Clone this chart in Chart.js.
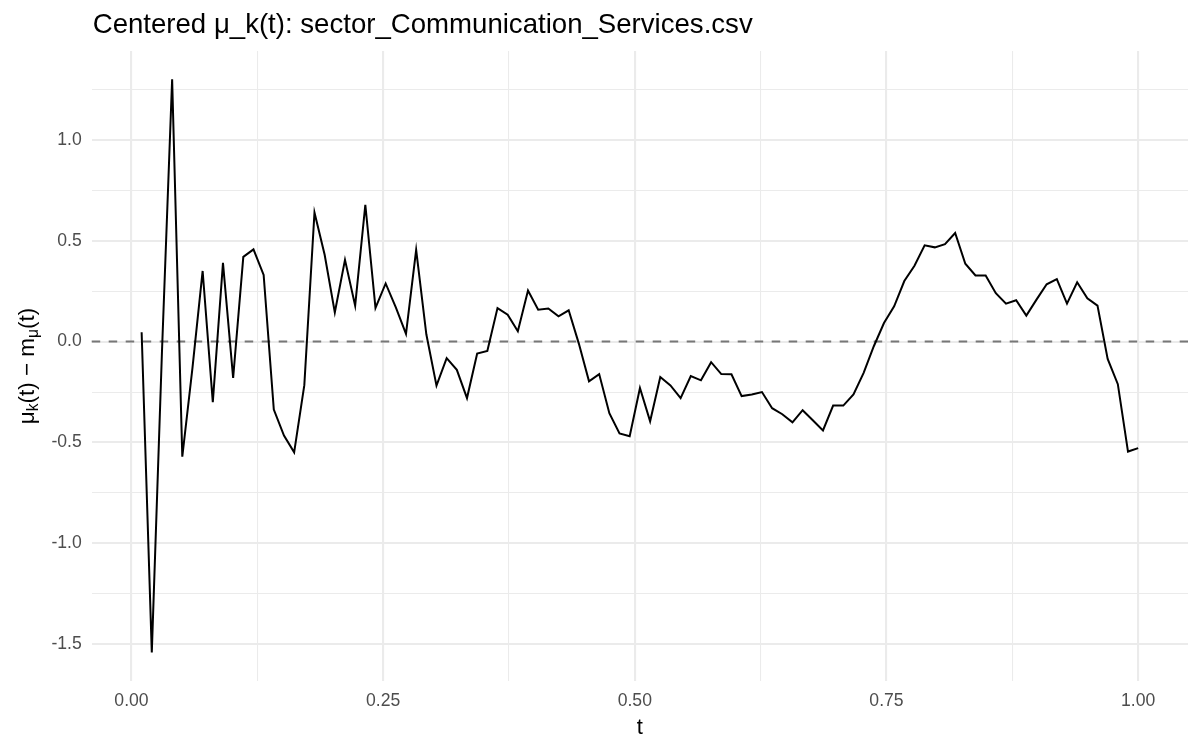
<!DOCTYPE html>
<html>
<head>
<meta charset="utf-8">
<script src="https://cdn.jsdelivr.net/npm/chart.js@4/dist/chart.umd.min.js"></script>
<style>
  html, body { margin: 0; padding: 0; background: #ffffff; }
  #wrap { width: 1200px; height: 750px; }
</style>
</head>
<body>
<div id="wrap"><canvas id="chart" width="1200" height="750"></canvas></div>
<script>
// t positions of the curve (99 evenly spaced points ending at 1)
const tValues = [
  0.0101, 0.0202, 0.0303, 0.0404, 0.0505, 0.0606, 0.0707, 0.0808, 0.0909, 0.1010,
  0.1111, 0.1212, 0.1313, 0.1414, 0.1515, 0.1616, 0.1717, 0.1818, 0.1919, 0.2020,
  0.2121, 0.2222, 0.2323, 0.2424, 0.2525, 0.2626, 0.2727, 0.2828, 0.2929, 0.3030,
  0.3131, 0.3232, 0.3333, 0.3434, 0.3535, 0.3636, 0.3737, 0.3838, 0.3939, 0.4040,
  0.4141, 0.4242, 0.4343, 0.4444, 0.4545, 0.4646, 0.4747, 0.4848, 0.4949, 0.5051,
  0.5152, 0.5253, 0.5354, 0.5455, 0.5556, 0.5657, 0.5758, 0.5859, 0.5960, 0.6061,
  0.6162, 0.6263, 0.6364, 0.6465, 0.6566, 0.6667, 0.6768, 0.6869, 0.6970, 0.7071,
  0.7172, 0.7273, 0.7374, 0.7475, 0.7576, 0.7677, 0.7778, 0.7879, 0.7980, 0.8081,
  0.8182, 0.8283, 0.8384, 0.8485, 0.8586, 0.8687, 0.8788, 0.8889, 0.8990, 0.9091,
  0.9192, 0.9293, 0.9394, 0.9495, 0.9596, 0.9697, 0.9798, 0.9899, 1.0000
];

// centered mu_k(t) values
const centeredMu = [
  0.046, -1.54, -0.05, 1.30, -0.57, -0.13, 0.35, -0.30, 0.39, -0.18,
  0.42, 0.457, 0.33, -0.337, -0.466, -0.549, -0.216, 0.64, 0.43, 0.144,
  0.405, 0.178, 0.678, 0.167, 0.288, 0.17, 0.038, 0.455, 0.036, -0.218,
  -0.082, -0.14, -0.28, -0.059, -0.046, 0.166, 0.133, 0.051, 0.253, 0.158,
  0.164, 0.125, 0.155, -0.01, -0.197, -0.161, -0.355, -0.455, -0.469, -0.23,
  -0.395, -0.176, -0.217, -0.28, -0.171, -0.192, -0.102, -0.161, -0.162, -0.27,
  -0.262, -0.25, -0.33, -0.36, -0.40, -0.34, -0.39, -0.44, -0.317, -0.317,
  -0.262, -0.155, -0.023, 0.092, 0.175, 0.30, 0.376, 0.477, 0.467, 0.483,
  0.538, 0.386, 0.328, 0.327, 0.24, 0.188, 0.205, 0.129, 0.208, 0.284,
  0.31, 0.188, 0.294, 0.215, 0.178, -0.086, -0.211, -0.545, -0.528
];

// grid / tick positions
const xTicks = [0, 0.125, 0.25, 0.375, 0.5, 0.625, 0.75, 0.875, 1];
const xMajor = [0, 0.25, 0.5, 0.75, 1];
const yTicks = [-1.5, -1.25, -1, -0.75, -0.5, -0.25, 0, 0.25, 0.5, 0.75, 1, 1.25];
const yMajor = [-1.5, -1, -0.5, 0, 0.5, 1];

const titleText = "Centered \u03bc_k(t): sector_Communication_Services.csv";
const FONT = '"Liberation Sans", Arial, sans-serif';

const isMajor = (list, v) => list.some((m) => Math.abs(m - v) < 1e-9);

// dashed reference line at zero + titles
const extras = {
  id: "extras",
  beforeDatasetsDraw(chart) {
    const { ctx, chartArea } = chart;
    const y0 = chart.scales.y.getPixelForValue(0);
    ctx.save();
    ctx.strokeStyle = "#777777";
    ctx.lineWidth = 2;
    ctx.setLineDash([8.5, 8.5]);
    ctx.beginPath();
    ctx.moveTo(chartArea.left, y0);
    ctx.lineTo(chartArea.right, y0);
    ctx.stroke();
    ctx.restore();
  },
  afterDraw(chart) {
    const { ctx, chartArea } = chart;
    ctx.save();
    ctx.fillStyle = "#000000";
    ctx.textBaseline = "alphabetic";

    // plot title
    ctx.font = "27.6px " + FONT;
    ctx.textAlign = "left";
    ctx.fillText(titleText, chartArea.left + 1, 33);

    // x title
    ctx.font = "22px " + FONT;
    ctx.textAlign = "center";
    ctx.fillText("t", (chartArea.left + chartArea.right) / 2, 734);

    // y title: mu_k(t) - m_mu(t)
    const parts = [
      { s: "\u03bc", size: 22.5, dy: 0 },
      { s: "k", size: 15.6, dy: 4.5 },
      { s: "(t) \u2212 m", size: 22.5, dy: 0 },
      { s: "\u03bc", size: 15.6, dy: 4.5 },
      { s: "(t)", size: 22.5, dy: 0 },
    ];
    let total = 0;
    parts.forEach((p) => {
      ctx.font = p.size + "px " + FONT;
      p.w = ctx.measureText(p.s).width;
      total += p.w;
    });
    ctx.translate(33.5, (chartArea.top + chartArea.bottom) / 2);
    ctx.rotate(-Math.PI / 2);
    ctx.textAlign = "left";
    let x = -total / 2;
    parts.forEach((p) => {
      ctx.font = p.size + "px " + FONT;
      ctx.fillText(p.s, x, p.dy);
      x += p.w;
    });
    ctx.restore();
  },
};

new Chart(document.getElementById("chart"), {
  type: "line",
  data: {
    datasets: [
      {
        data: tValues.map((t, i) => ({ x: t, y: centeredMu[i] })),
        borderColor: "#000000",
        borderWidth: 2,
        pointRadius: 0,
        tension: 0,
        fill: false,
      },
    ],
  },
  options: {
    responsive: false,
    animation: false,
    devicePixelRatio: 1,
    layout: { padding: { left: 0, top: 51, right: 12, bottom: 0 } },
    plugins: {
      legend: { display: false },
      tooltip: { enabled: false },
    },
    scales: {
      x: {
        type: "linear",
        min: -0.0395,
        max: 1.0495,
        afterBuildTicks: (scale) => {
          scale.ticks = xTicks.map((v) => ({ value: v }));
        },
        afterFit: (scale) => {
          scale.height = 69;
        },
        border: { display: false },
        grid: {
          drawTicks: false,
          color: "#ebebeb",
          lineWidth: (c) => (isMajor(xMajor, c.tick.value) ? 2.1 : 1.05),
        },
        ticks: {
          autoSkip: false,
          maxRotation: 0,
          padding: 10,
          color: "#4d4d4d",
          font: { family: FONT, size: 17.6 },
          callback: (v) => (isMajor(xMajor, v) ? v.toFixed(2) : ""),
        },
      },
      y: {
        type: "linear",
        min: -1.682,
        max: 1.44,
        afterBuildTicks: (scale) => {
          scale.ticks = yTicks.map((v) => ({ value: v }));
        },
        afterFit: (scale) => {
          scale.width = 91.7;
        },
        border: { display: false },
        grid: {
          drawTicks: false,
          color: "#ebebeb",
          lineWidth: (c) => (isMajor(yMajor, c.tick.value) ? 2.1 : 1.05),
        },
        ticks: {
          autoSkip: false,
          padding: 10,
          color: "#4d4d4d",
          font: { family: FONT, size: 17.6 },
          callback: (v) => (isMajor(yMajor, v) ? v.toFixed(1) : ""),
        },
      },
    },
  },
  plugins: [extras],
});
</script>
</body>
</html>
